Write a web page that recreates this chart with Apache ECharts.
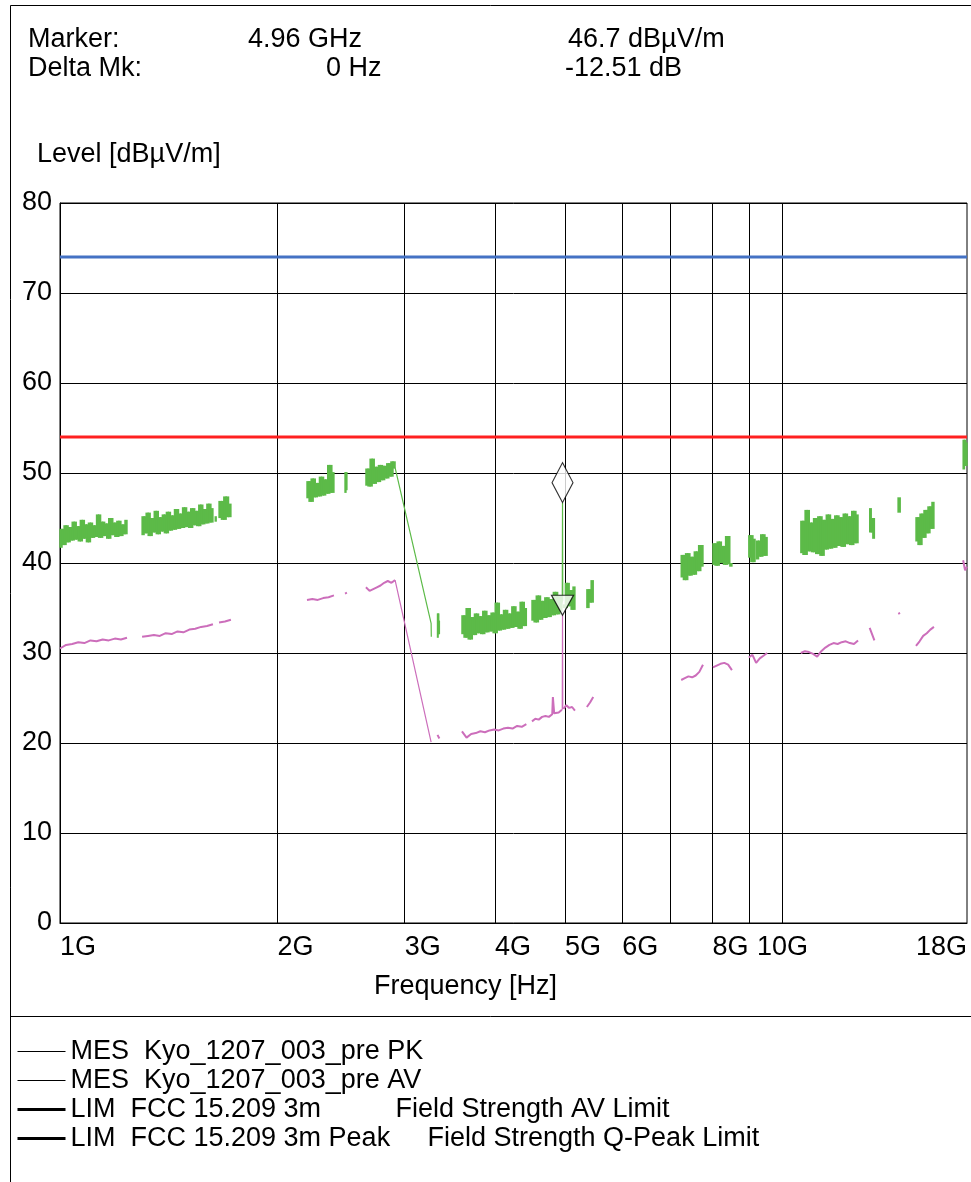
<!DOCTYPE html>
<html>
<head>
<meta charset="utf-8">
<title>Radiated emission 1-18 GHz</title>
<script src="https://cdn.jsdelivr.net/npm/echarts@6/dist/echarts.min.js"></script>
<style>
  html, body { margin: 0; padding: 0; background: #fff; }
  #main { width: 971px; height: 1182px; }
</style>
</head>
<body>
<div id="main"></div>
<script>
var FONT = '"Liberation Sans", Arial, sans-serif';
var FS = 27;
var GREEN = '#5cba48';
var MAGENTA = '#cc6ebb';

// axis layout values
var levelTicks = [0, 10, 20, 30, 40, 50, 60, 70, 80];
var gridFreqs = [2, 3, 4, 5, 6, 7, 8, 9, 10];          // GHz, vertical grid lines
var labelFreqs = [1, 2, 3, 4, 5, 6, 8];                // GHz, left aligned labels
var fMin = 1, fMax = 18;

// limits (dBuV/m)
var limitAV = 54;
var limitPK = 74;

// marker
var markerFreq = 4.96;
var markerPK = 46.7;
var markerAV = 34.19;

// peak trace noise band: [fromGHz, toGHz, levels] (levels swing low/high)
var pkRuns = [
  [1.000, 1.238, [41.8,43.8,42.1,44.2,42.4,44.0,42.6,44.6,42.7,44.1,42.5,44.8,42.8,44.3,42.4,44.5,42.9,44.2,43.0,45.4,42.9,44.6,43.1,44.4,42.8,45.0,43.2,44.5,43.0,44.7,43.1,44.3,43.3,44.8]],
  [1.299, 1.628, [43.2,45.2,43.4,45.6,43.1,45.0,43.5,45.8,43.3,45.1,43.6,45.4,43.4,45.7,43.7,45.3,43.8,46.0,43.9,45.5,44.0,46.2,44.1,45.7,44.0,46.1,44.3,45.8,44.2,46.5,44.4,46.0,44.5,46.6,44.6,46.1]],
  [1.640, 1.645, [44.7, 45.2]],
  [1.660, 1.724, [45.1,46.9,44.9,47.4,45.2,46.6]],
  [2.197, 2.394, [47.3,49.1,46.9,49.4,47.4,48.9,47.5,49.6,47.6,49.3,47.8,50.9,47.9,50.1]],
  [2.480, 2.495, [47.9,50.1,48.2]],
  [2.651, 2.909, [48.7,50.5,48.6,51.6,48.9,50.7,49.1,50.9,49.3,50.8,49.5,51.1,49.7,51.3,50.6]],
  [3.330, 3.350, [31.8,34.4,32.2,33.6]],
  [3.600, 4.420, [32.2,34.2,31.8,35.0,31.6,34.0,32.1,34.4,32.3,34.1,32.2,34.7,32.4,34.2,32.5,34.5,32.3,35.6,32.6,34.3,32.7,34.8,32.8,34.4,32.9,35.2,33.0,34.6,32.8,35.7,33.1,35.0]],
  [4.500, 4.950, [33.7,35.9,33.5,36.4,33.8,35.8,34.0,36.2,34.1,36.0,34.3,36.8,34.4,36.4,34.7]],
  [4.975, 5.160, [35.4,35.1,37.8,35.3,37.0,34.9,37.4]],
  [5.360, 5.470, [35.1,37.1,35.7,38.1]],
  [7.240, 7.760, [38.5,40.9,38.2,41.1,38.7,40.7,38.8,41.3,39.2,42.0,39.7]],
  [8.010, 8.510, [39.9,42.2,39.8,42.4,40.1,41.9,39.9,43.0,40.0,39.7]],
  [8.980, 9.160, [40.7,43.1,40.2,42.7]],
  [9.200, 9.520, [40.5,42.5,40.8,43.2,40.9,42.9]],
  [10.60, 12.72, [41.2,44.7,41.0,45.9,41.4,44.5,41.3,45.0,41.1,45.2,40.9,44.8,41.6,45.4,41.7,44.9,41.8,45.3,42.0,45.1,41.9,45.5,42.2,45.2,42.1,45.8,42.3,45.4]],
  [13.20, 13.40, [46.1,43.5,45.0,42.8]],
  [14.45, 14.55, [47.3,45.7]],
  [15.30, 16.20, [42.5,45.1,42.1,45.5,42.9,45.9,43.4,46.3,43.9,46.8]],
  [17.78, 18.00, [50.5,53.7,50.9,53.4]]
];

// thin connecting strokes of the peak trace: [GHz, level]
var pkLinks = [
  [[2.909, 50.6], [3.263, 33.3], [3.265, 31.8]],
  [[4.956, 35.6], [4.960, 46.7], [4.964, 35.8]]
];

// average trace: [fromGHz, toGHz, levels, joinToPrevious]
var avRuns = [
  [1.000, 1.238, [30.5,30.9,31.0,31.2,31.1,31.4,31.3,31.5,31.4,31.6,31.5,31.7]],
  [1.299, 1.628, [31.8,31.9,32.0,31.9,32.2,32.1,32.4,32.3,32.6,32.7,32.9,33.0,33.2]],
  [1.660, 1.724, [33.4,33.5,33.7]],
  [2.197, 2.394, [35.9,36.0,35.9,36.1,36.2,36.4]],
  [2.480, 2.495, [36.6,36.7]],
  [2.651, 2.909, [37.3,36.9,37.1,37.3,37.5,37.8,38.0,37.8,38.1]],
  [3.330, 3.350, [20.9,20.5]],
  [3.600, 4.420, [21.3,20.6,21.0,21.1,21.3,21.2,21.4,21.5,21.4,21.6,21.7,21.6,21.9,21.8,22.1]],
  [4.500, 4.800, [22.4,22.7,22.6,22.9,23.0,22.9,23.2]],
  [4.810, 4.830, [25.1,23.3], true],
  [4.850, 4.950, [23.5,23.4,23.7], true],
  [4.975, 5.160, [23.8,24.2,23.9,24.0,23.6]],
  [5.360, 5.470, [24.0,24.5,25.1]],
  [7.240, 7.760, [27.0,27.2,27.4,27.3,27.5,27.9,28.7]],
  [8.010, 8.510, [28.4,28.6,28.8,28.9,28.7,28.1]],
  [8.980, 9.520, [29.5,29.8,28.9,29.4,29.7,30.0]],
  [10.60, 12.72, [30.0,30.2,30.1,29.9,29.6,30.2,30.6,30.9,31.1,31.0,31.2,31.3,31.1,31.0,31.4]],
  [13.20, 13.40, [32.8,31.4]],
  [14.48, 14.52, [34.5,34.3]],
  [15.30, 16.20, [30.8,31.3,31.9,32.2,32.6,32.9]],
  [17.78, 18.00, [40.3,39.2,39.6]]
];

var avLinks = [
  [[2.909, 38.1], [3.263, 20.1]],
  [[4.956, 23.7], [4.960, 34.19], [4.964, 23.8]]
];

var LOG = Math.log10;

function runX(r, k) {
  var a = LOG(r[0]), b = LOG(r[1]), n = r[2].length;
  return n > 1 ? a + (b - a) * k / (n - 1) : a;
}

// runs -> [log10(f), level] points, '-' breaks the line between runs
function buildTrace(runs) {
  var out = [];
  runs.forEach(function (r, i) {
    if (i > 0 && !r[3]) out.push(['-', '-']);
    for (var k = 0; k < r[2].length; k++) out.push([runX(r, k), r[2][k]]);
  });
  return out;
}

// runs -> columns [x0, x1, levelA, levelB] between neighbouring samples
function buildColumns(runs) {
  var out = [];
  runs.forEach(function (r) {
    for (var k = 0; k < r[2].length - 1; k++) {
      out.push([runX(r, k), runX(r, k + 1), r[2][k], r[2][k + 1]]);
    }
  });
  return out;
}

function buildLinks(links) {
  var out = [];
  links.forEach(function (pts, i) {
    if (i > 0) out.push(['-', '-']);
    pts.forEach(function (p) { out.push([LOG(p[0]), p[1]]); });
  });
  return out;
}

var namePK = 'MES  Kyo_1207_003_pre PK';
var nameAV = 'MES  Kyo_1207_003_pre AV';
var nameLimAV = 'LIM  FCC 15.209 3m';
var nameLimPK = 'LIM  FCC 15.209 3m Peak';

var legendText = {};
legendText[namePK] = namePK;
legendText[nameAV] = nameAV;
legendText[nameLimAV] = '{a|' + nameLimAV + '}{b|Field Strength AV Limit}';
legendText[nameLimPK] = '{p|' + nameLimPK + '}{b|Field Strength Q-Peak Limit}';

function freqLabel(v) {
  return Math.round(Math.pow(10, v)) + 'G';
}

function xAxisBase(extra) {
  var ax = {
    type: 'value',
    gridIndex: 0,
    min: LOG(fMin),
    max: LOG(fMax),
    position: 'bottom',
    axisLine: { show: false },
    axisTick: { show: false },
    splitLine: { show: false },
    axisLabel: { show: false }
  };
  for (var k in extra) ax[k] = extra[k];
  return ax;
}

var labelStyle = { color: '#000', fontFamily: FONT, fontSize: FS, margin: 11 };

function withStyle(o) {
  for (var k in labelStyle) o[k] = labelStyle[k];
  return o;
}

// one noise column of the peak band
function renderColumn(params, api) {
  var p0 = api.coord([api.value(0), api.value(2)]);
  var p1 = api.coord([api.value(1), api.value(3)]);
  var x = Math.min(p0[0], p1[0]);
  var y = Math.min(p0[1], p1[1]);
  return {
    type: 'rect',
    shape: { x: x - 0.7, y: y, width: Math.abs(p1[0] - p0[0]) + 1.4, height: Math.abs(p1[1] - p0[1]) + 1 },
    style: { fill: GREEN, stroke: null }
  };
}

var chart = echarts.init(document.getElementById('main'), null, { renderer: 'canvas' });

var legendLine = function (name, w) {
  return { name: name, lineStyle: { color: '#000', width: w }, itemStyle: { opacity: 0 } };
};

var option = {
  animation: false,
  backgroundColor: '#fff',
  textStyle: { fontFamily: FONT },
  grid: {
    left: 60, top: 203, width: 907, height: 720,
    show: true, borderColor: '#000', borderWidth: 1
  },
  xAxis: [
    xAxisBase({
      axisLine: { show: true, onZero: false, lineStyle: { color: '#000', width: 1 } },
      axisTick: { show: false, customValues: gridFreqs.map(LOG) },
      splitLine: { show: true, lineStyle: { color: '#000', width: 1 } },
      axisLabel: withStyle({ show: true, customValues: labelFreqs.map(LOG), formatter: freqLabel, align: 'left' })
    }),
    xAxisBase({
      axisLabel: withStyle({ show: true, customValues: [LOG(10)], formatter: freqLabel, align: 'center' })
    }),
    xAxisBase({
      axisLabel: withStyle({ show: true, customValues: [LOG(18)], formatter: freqLabel, align: 'right' })
    })
  ],
  yAxis: {
    type: 'value',
    min: levelTicks[0],
    max: levelTicks[levelTicks.length - 1],
    interval: 10,
    axisLine: { show: true, lineStyle: { color: '#000', width: 1 } },
    axisTick: { show: false },
    splitLine: { show: true, lineStyle: { color: '#000', width: 1 } },
    axisLabel: { color: '#000', fontFamily: FONT, fontSize: FS, margin: 8 }
  },
  legend: {
    orient: 'vertical',
    left: 16,
    top: 1037,
    padding: 0,
    itemWidth: 48,
    itemHeight: 14,
    itemGap: 0,
    selectedMode: false,
    data: [
      legendLine(namePK, 1),
      legendLine(nameAV, 1),
      legendLine(nameLimAV, 3),
      legendLine(nameLimPK, 3)
    ],
    formatter: function (name) { return legendText[name]; },
    textStyle: {
      color: '#000', fontFamily: FONT, fontSize: FS, lineHeight: 29,
      rich: {
        a: { width: 325, fontSize: FS, fontFamily: FONT, color: '#000' },
        p: { width: 357, fontSize: FS, fontFamily: FONT, color: '#000' },
        b: { fontSize: FS, fontFamily: FONT, color: '#000' }
      }
    }
  },
  graphic: [
    { type: 'line', shape: { x1: 10.5, y1: 5.5, x2: 971, y2: 5.5 }, style: { stroke: '#000', lineWidth: 1 } },
    { type: 'line', shape: { x1: 10.5, y1: 5.5, x2: 10.5, y2: 1182 }, style: { stroke: '#000', lineWidth: 1 } },
    { type: 'line', shape: { x1: 10.5, y1: 1016.5, x2: 971, y2: 1016.5 }, style: { stroke: '#000', lineWidth: 1 } },
    { type: 'text', left: 28, top: 26, style: { text: 'Marker:', font: FS + 'px ' + FONT, fill: '#000' } },
    { type: 'text', left: 248, top: 26, style: { text: '4.96 GHz', font: FS + 'px ' + FONT, fill: '#000' } },
    { type: 'text', left: 568, top: 26, style: { text: '46.7 dBµV/m', font: FS + 'px ' + FONT, fill: '#000' } },
    { type: 'text', left: 28, top: 55, style: { text: 'Delta Mk:', font: FS + 'px ' + FONT, fill: '#000' } },
    { type: 'text', left: 326, top: 55, style: { text: '0 Hz', font: FS + 'px ' + FONT, fill: '#000' } },
    { type: 'text', left: 565, top: 55, style: { text: '-12.51 dB', font: FS + 'px ' + FONT, fill: '#000' } },
    { type: 'text', left: 37, top: 141, style: { text: 'Level [dBµV/m]', font: FS + 'px ' + FONT, fill: '#000' } },
    { type: 'text', left: 374, top: 973, style: { text: 'Frequency [Hz]', font: FS + 'px ' + FONT, fill: '#000' } }
  ],
  series: [
    {
      name: nameLimPK, type: 'line', symbol: 'none', z: 2,
      lineStyle: { color: '#4472c4', width: 3 },
      data: [[LOG(fMin), limitPK], [LOG(fMax), limitPK]]
    },
    {
      name: nameLimAV, type: 'line', symbol: 'none', z: 2,
      lineStyle: { color: '#ff2020', width: 3 },
      data: [[LOG(fMin), limitAV], [LOG(fMax), limitAV]]
    },
    {
      name: nameAV, type: 'line', symbol: 'none', z: 3, connectNulls: false,
      lineStyle: { color: MAGENTA, width: 2 },
      data: buildTrace(avRuns)
    },
    {
      name: 'av links', type: 'line', symbol: 'none', z: 3, connectNulls: false,
      lineStyle: { color: MAGENTA, width: 1.2 },
      data: buildLinks(avLinks)
    },
    {
      name: 'pk band', type: 'custom', z: 4,
      renderItem: renderColumn,
      encode: { x: [0, 1], y: [2, 3] },
      data: buildColumns(pkRuns)
    },
    {
      name: namePK, type: 'line', symbol: 'none', z: 4, connectNulls: false,
      lineStyle: { color: GREEN, width: 1.2 },
      data: buildLinks(pkLinks)
    },
    {
      name: 'marker', type: 'scatter', z: 6,
      itemStyle: { color: '#fff', borderColor: '#000', borderWidth: 1.2 },
      data: [
        { value: [LOG(markerFreq), markerPK], symbol: 'diamond', symbolSize: [21, 40], symbolOffset: [0, -20] },
        { value: [LOG(markerFreq), markerAV], symbol: 'triangle', symbolSize: [22, 20], symbolRotate: 180, symbolOffset: [0, -10] }
      ]
    }
  ]
};

chart.setOption(option);

window.onresize = function () {
  chart.resize();
};
</script>
</body>
</html>
